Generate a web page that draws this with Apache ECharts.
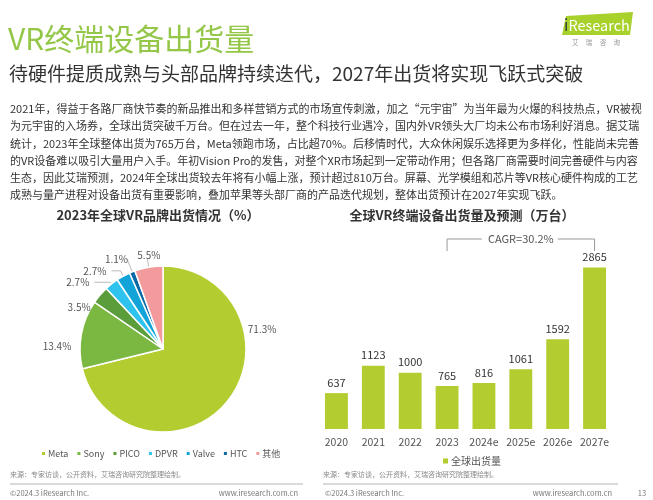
<!DOCTYPE html>
<html lang="zh-CN">
  <head>
    <meta charset="UTF-8" />
    <title>VR终端设备出货量</title>
    <style>
      html, body { margin: 0; padding: 0; background: #fff; }
      #main { width: 653px; height: 500px; }
    </style>
  </head>
  <body>
    <div id="main"></div>
    <script src="https://cdn.jsdelivr.net/npm/echarts@6/dist/echarts.min.js"></script>
    <script>
      // 品牌份额（2023）
      const brands = ["Meta", "Sony", "PICO", "DPVR", "Valve", "HTC", "其他"];
      const brandShare = [71.3, 13.4, 3.5, 2.7, 2.7, 1.1, 5.5];
      const brandColors = ["#b3cc2f", "#7bb842", "#5a9d3a", "#2ec2ee", "#12a4d8", "#0b69a5", "#f29a9c"];

      // 出货量（万台）
      const years = ["2020", "2021", "2022", "2023", "2024e", "2025e", "2026e", "2027e"];
      const shipments = [637, 1123, 1000, 765, 816, 1061, 1592, 2865];

      const paragraph = [
        "2021年，得益于各路厂商快节奏的新品推出和多样营销方式的市场宣传刺激，加之“元宇宙”为当年最为火爆的科技热点，VR被视",
        "为元宇宙的入场券，全球出货突破千万台。但在过去一年，整个科技行业遇冷，国内外VR领头大厂均未公布市场利好消息。据艾瑞",
        "统计，2023年全球整体出货为765万台，Meta领跑市场，占比超70%。后移情时代，大众休闲娱乐选择更为多样化，性能尚未完善",
        "的VR设备难以吸引大量用户入手。年初Vision Pro的发售，对整个XR市场起到一定带动作用；但各路厂商需要时间完善硬件与内容",
        "生态，因此艾瑞预测，2024年全球出货较去年将有小幅上涨，预计超过810万台。屏幕、光学模组和芯片等VR核心硬件构成的工艺",
        "成熟与量产进程对设备出货有重要影响，叠加苹果等头部厂商的产品迭代规划，整体出货预计在2027年实现飞跃。"
      ];

      const FONT = '"Noto Sans CJK SC", "Noto Sans", sans-serif';
      const green = "#b3cc2f";

      const chart = echarts.init(document.getElementById("main"));

      // 页面上的文字
      const texts = [
        { type: "text", style: { text: "VR终端设备出货量", x: 8, y: 39, fontSize: 30, fontFamily: FONT, fill: "#94c748", textVerticalAlign: "middle" } },
        { type: "text", style: { text: "待硬件提质成熟与头部品牌持续迭代，2027年出货将实现飞跃式突破", x: 9, y: 74, fontSize: 19, fontFamily: FONT, fill: "#333", textVerticalAlign: "middle" } },
        { type: "text", style: { text: "2023年全球VR品牌出货情况（%）", x: 158, y: 215, fontSize: 13, fontWeight: "bold", fontFamily: FONT, fill: "#333", textAlign: "center", textVerticalAlign: "middle" } },
        { type: "text", style: { text: "全球VR终端设备出货量及预测（万台）", x: 462, y: 215, fontSize: 13, fontWeight: "bold", fontFamily: FONT, fill: "#333", textAlign: "center", textVerticalAlign: "middle" } },
        // 页脚
        { type: "text", style: { text: "来源：专家访谈，公开资料，艾瑞咨询研究院整理绘制。", x: 10, y: 474, fontSize: 7, fontFamily: FONT, fill: "#888", textVerticalAlign: "middle" } },
        { type: "text", style: { text: "来源：专家访谈，公开资料，艾瑞咨询研究院整理绘制。", x: 323, y: 474, fontSize: 7, fontFamily: FONT, fill: "#888", textVerticalAlign: "middle" } },
        { type: "line", shape: { x1: 10, y1: 484, x2: 303, y2: 484 }, style: { stroke: "#ccc", lineWidth: 1.5 } },
        { type: "line", shape: { x1: 323, y1: 484, x2: 618, y2: 484 }, style: { stroke: "#ccc", lineWidth: 1.5 } },
        { type: "text", style: { text: "©2024.3 iResearch Inc.", x: 10, y: 493, fontSize: 7.5, fontFamily: FONT, fill: "#777", textVerticalAlign: "middle" } },
        { type: "text", style: { text: "www.iresearch.com.cn", x: 298, y: 493, fontSize: 7.5, fontFamily: FONT, fill: "#777", textAlign: "right", textVerticalAlign: "middle" } },
        { type: "text", style: { text: "©2024.3 iResearch Inc.", x: 325, y: 493, fontSize: 7.5, fontFamily: FONT, fill: "#777", textVerticalAlign: "middle" } },
        { type: "text", style: { text: "www.iresearch.com.cn", x: 612, y: 493, fontSize: 7.5, fontFamily: FONT, fill: "#777", textAlign: "right", textVerticalAlign: "middle" } },
        { type: "text", style: { text: "13", x: 642, y: 493, fontSize: 7.5, fontFamily: FONT, fill: "#777", textAlign: "center", textVerticalAlign: "middle" } },
        // logo
        { type: "polygon", shape: { points: [[566, 16], [633, 12], [630, 35], [562, 35]] }, style: { fill: "#a8d12c" } },
        { type: "text", style: { text: "{i|i}{r|Research}", x: 564, y: 25, fontFamily: FONT, textVerticalAlign: "middle",
            rich: { i: { fontSize: 16, fill: "#3a3a3a", fontFamily: FONT }, r: { fontSize: 14.5, fill: "#fff", fontFamily: FONT } } } },
        { type: "text", style: { text: "艾     瑞     咨     询", x: 596, y: 43, fontSize: 6.5, fontFamily: FONT, fill: "#999", textAlign: "center", textVerticalAlign: "middle" } }
      ];
      paragraph.forEach((line, i) => {
        texts.push({ type: "text", style: { text: line, x: 10, y: 109 + i * 17.2, fontSize: 11, fontFamily: FONT, fill: "#333", textVerticalAlign: "middle" } });
      });

      // 各扇区标签引线长度 [length, length2]，Meta/Sony/PICO 不显示引线
      const leader = [[12, 5], [3, 2], [3, 2], [2, 16], [6, 9], [14, 0], [8, 0]];
      // 标签微调（labelLayout 的位移会被计两次，故取一半）
      const nudge = [{ dy: -39 }, { dy: 6 }, { dy: 7 }, {}, {}, { dx: 3 }, { dx: 9, dy: -2 }];

      const option = {
        animation: false,
        textStyle: { fontFamily: FONT },
        legend: [
          {
            data: brands,
            left: 35,
            top: 444,
            itemWidth: 5,
            itemHeight: 5,
            itemGap: 7,
            icon: "rect",
            textStyle: { fontSize: 9, color: "#555", padding: [0, 0, 0, -3] }
          },
          {
            data: ["全球出货量"],
            left: 438,
            top: 451,
            itemWidth: 5,
            itemHeight: 5,
            icon: "rect",
            textStyle: { fontSize: 10, color: "#555", padding: [0, 0, 0, -2] }
          }
        ],
        grid: { left: 318, right: 40, top: 260, bottom: 71 },
        xAxis: {
          type: "category",
          data: years,
          axisLine: { show: false },
          axisTick: { show: false },
          axisLabel: { color: "#555", fontSize: 10.5, margin: 8, interval: 0 }
        },
        yAxis: {
          type: "value",
          min: 0,
          max: 3000,
          show: false,
          splitLine: { show: false }
        },
        series: [
          {
            name: "全球出货量",
            type: "bar",
            data: shipments,
            barWidth: "62%",
            itemStyle: { color: green },
            label: { show: true, position: "top", distance: 5, color: "#333", fontSize: 11 }
          },
          {
            name: "品牌份额",
            type: "pie",
            center: [163, 349],
            radius: 83,
            startAngle: 90,
            avoidLabelOverlap: false,
            data: brands.map((b, i) => ({
              name: b,
              value: brandShare[i],
              itemStyle: { color: brandColors[i] },
              labelLine: { show: i >= 3, length: leader[i][0], length2: leader[i][1] }
            })),
            itemStyle: { borderColor: "#fff", borderWidth: 1.5 },
            label: { show: true, formatter: (p) => p.value.toFixed(1) + "%", color: "#555", fontSize: 10 },
            labelLine: { lineStyle: { color: "#aaa", width: 0.8 } },
            labelLayout: (p) => nudge[p.dataIndex]
          }
        ],
        graphic: texts
      };

      chart.setOption(option);

      // CAGR 括号标注：用坐标轴换算位置
      const xa = chart.convertToPixel({ xAxisIndex: 0 }, "2023");
      const xb = chart.convertToPixel({ xAxisIndex: 0 }, "2027e");
      const yTop = chart.convertToPixel({ yAxisIndex: 0 }, 3000);
      const yLine = yTop - 21;
      const yEnd = yTop - 9;
      const mid = (xa + xb) / 2;
      chart.setOption({
        graphic: texts.concat([
          { type: "polyline", shape: { points: [[xa, yEnd], [xa, yLine], [mid - 39, yLine]] }, style: { stroke: "#999", lineWidth: 1, fill: null } },
          { type: "polyline", shape: { points: [[mid + 37, yLine], [xb, yLine], [xb, yEnd]] }, style: { stroke: "#999", lineWidth: 1, fill: null } },
          { type: "text", style: { text: "CAGR=30.2%", x: mid, y: yLine, fontSize: 11, fontFamily: FONT, fill: "#555", textAlign: "center", textVerticalAlign: "middle" } }
        ])
      });
    </script>
  </body>
</html>
